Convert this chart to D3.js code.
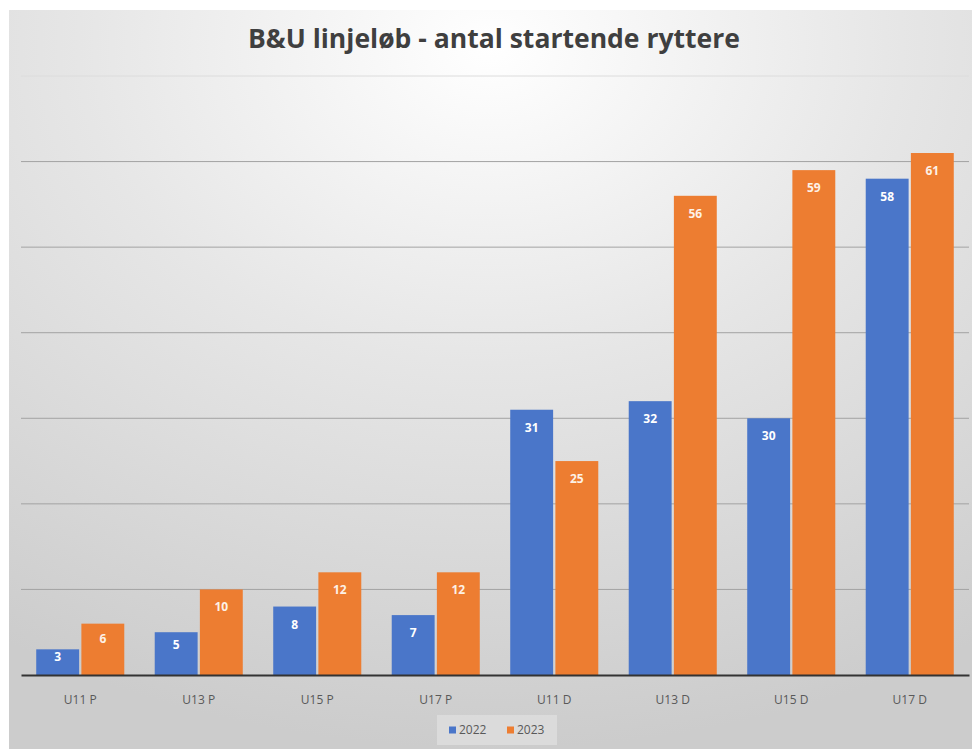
<!DOCTYPE html>
<html lang="da">
<head>
    <meta charset="UTF-8">
    <title>B&U linjeløb</title>
    <script src="https://cdn.jsdelivr.net/npm/d3@7"></script>
    <style>
        body, html { margin: 0; padding: 0; background: #fff; overflow: hidden; }
        svg { display: block; }
    </style>
</head>
<body>
    <svg id="mainsvg"></svg>
    <script>
        // data
        const categories = ['U11 P', 'U13 P', 'U15 P', 'U17 P', 'U11 D', 'U13 D', 'U15 D', 'U17 D'];
        const seriesNames = ['2022', '2023'];
        const values2022 = [3, 5, 8, 7, 31, 32, 30, 58];
        const values2023 = [6, 10, 12, 12, 25, 56, 59, 61];
        const yTicks = [0, 10, 20, 30, 40, 50, 60, 70];
        const colors = ['#4a76c9', '#ed7d31'];

        const width = 972, height = 749;
        const svg = d3.select('svg').attr('width', width).attr('height', height);

        // background gradient
        const defs = svg.append('defs');
        const grad = defs.append('radialGradient').attr('id', 'bg')
            .attr('cx', '50%').attr('cy', '5%').attr('r', '95%');
        grad.append('stop').attr('offset', '0%').attr('stop-color', '#ffffff');
        grad.append('stop').attr('offset', '45%').attr('stop-color', '#e6e6e6');
        grad.append('stop').attr('offset', '100%').attr('stop-color', '#cccccc');
        svg.append('rect').attr('x', 9).attr('y', 10).attr('width', width - 9).attr('height', height - 10)
            .attr('fill', 'url(#bg)');

        const margin = { top: 76, right: 3, bottom: 74, left: 21 };
        const innerWidth = width - margin.left - margin.right;
        const innerHeight = height - margin.top - margin.bottom;

        const g = svg.append('g').attr('transform', `translate(${margin.left}, ${margin.top})`);

        const xScale = d3.scaleBand().domain(categories).range([0, innerWidth])
            .paddingInner(0.257).paddingOuter(0.1285);
        const xInner = d3.scaleBand().domain(seriesNames).range([0, xScale.bandwidth()]).paddingInner(0.05);
        const yScale = d3.scaleLinear().domain([0, 70]).range([innerHeight, 0]);

        // gridlines
        g.selectAll('.grid').data(yTicks.slice(1)).enter().append('line')
            .attr('class', 'grid')
            .attr('x1', 0).attr('x2', innerWidth)
            .attr('y1', d => yScale(d)).attr('y2', d => yScale(d))
            .attr('stroke', d => d === 70 ? '#dcdcdc' : '#a3a3a3')
            .attr('stroke-width', 1);

        const rows = categories.map((c, i) => ({ cat: c, vals: [values2022[i], values2023[i]] }));

        const groups = g.selectAll('.grp').data(rows).enter().append('g')
            .attr('class', 'grp')
            .attr('transform', d => `translate(${xScale(d.cat)}, 0)`);

        const bars = groups.selectAll('.bar').data(d => d.vals.map((v, j) => ({ s: seriesNames[j], v: v, j: j })))
            .enter();

        bars.append('rect')
            .attr('x', d => xInner(d.s))
            .attr('width', xInner.bandwidth())
            .attr('y', d => yScale(d.v))
            .attr('height', d => innerHeight - yScale(d.v))
            .attr('fill', d => colors[d.j]);

        // labels sit just inside the bar top
        bars.append('text')
            .attr('x', d => xInner(d.s) + xInner.bandwidth() / 2)
            .attr('y', d => {
                const h = innerHeight - yScale(d.v);
                return yScale(d.v) + Math.min(18, h * 0.3) + 4;
            })
            .attr('text-anchor', 'middle')
            .attr('fill', d => d.j === 0 ? '#ffffff' : '#fdf1e6')
            .attr('font-family', 'Open Sans, sans-serif')
            .attr('font-weight', 'bold')
            .attr('font-size', '12px')
            .text(d => d.v);

        // x axis
        const xAxis = d3.axisBottom(xScale).tickSize(0).tickPadding(20);
        const xAxisGroup = g.append('g').attr('transform', `translate(0, ${innerHeight})`).call(xAxis);
        xAxisGroup.select('.domain').attr('stroke', '#333').attr('stroke-width', 2);
        xAxisGroup.selectAll('.tick text')
            .attr('fill', '#595959')
            .attr('font-family', 'Open Sans, sans-serif')
            .attr('font-size', '12px');

        // title
        svg.append('text')
            .attr('x', 494).attr('y', 48)
            .attr('text-anchor', 'middle')
            .attr('fill', '#3f3f3f')
            .attr('font-family', 'Open Sans, sans-serif')
            .attr('font-weight', 'bold')
            .attr('font-size', '27px')
            .attr('textLength', 492)
            .attr('lengthAdjust', 'spacingAndGlyphs')
            .text('B&U linjeløb - antal startende ryttere');

        // legend
        const legend = svg.append('g').attr('transform', 'translate(437, 715)');
        legend.append('rect').attr('width', 120).attr('height', 30).attr('fill', '#e4e4e4').attr('opacity', 0.6);
        seriesNames.forEach((s, i) => {
            const lg = legend.append('g').attr('transform', `translate(${12 + i * 58}, 15)`);
            lg.append('rect').attr('x', 0).attr('y', -3.5).attr('width', 7).attr('height', 7).attr('fill', colors[i]);
            lg.append('text').attr('x', 10).attr('y', 4)
                .attr('fill', '#595959')
                .attr('font-family', 'Open Sans, sans-serif')
                .attr('font-size', '12px')
                .text(s);
        });
    </script>
</body>
</html>
